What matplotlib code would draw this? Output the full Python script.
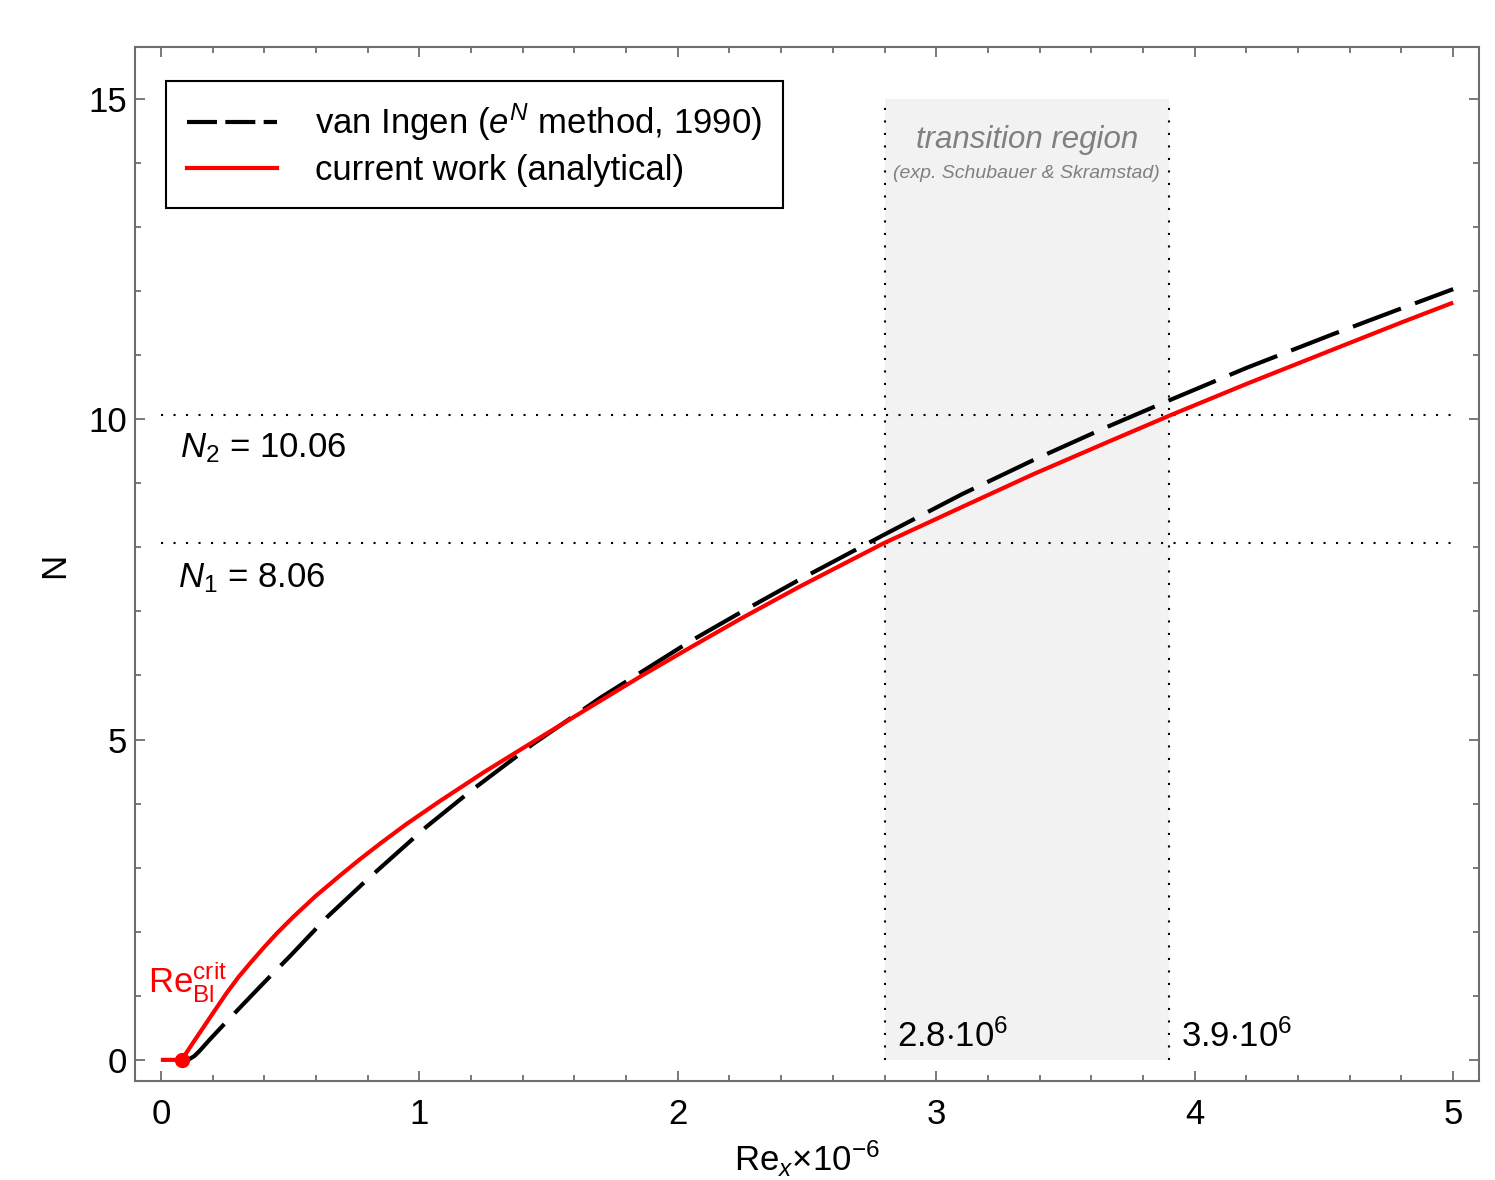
import matplotlib
matplotlib.use("Agg")
import matplotlib.pyplot as plt
from matplotlib.lines import Line2D
from matplotlib.ticker import MultipleLocator

plt.rcParams['font.family'] = ['Liberation Sans', 'DejaVu Sans']
plt.rcParams['mathtext.fontset'] = 'custom'
plt.rcParams['mathtext.rm'] = 'Liberation Sans'
plt.rcParams['mathtext.it'] = 'Liberation Sans:italic'
plt.rcParams['mathtext.bf'] = 'Liberation Sans:bold'

# ---- data ----
red_x = [0.0, 0.081, 0.12, 0.16, 0.2, 0.254, 0.3, 0.35, 0.4, 0.45, 0.512, 0.6,
         0.7, 0.77, 0.85, 0.95, 1.08, 1.25, 1.467, 1.65, 1.854, 2.05, 2.241, 2.473,
         2.795, 3.1, 3.375, 3.65, 3.905, 4.2, 4.537, 4.8, 5.0]
red_N = [0.0, 0.0, 0.24, 0.48, 0.72, 1.04, 1.29, 1.53, 1.76, 1.98, 2.23, 2.56,
         2.90, 3.13, 3.38, 3.68, 4.04, 4.49, 5.03, 5.48, 5.98, 6.44, 6.88, 7.39,
         8.06, 8.63, 9.14, 9.62, 10.06, 10.55, 11.09, 11.51, 11.82]

black_x = [0.105, 0.13, 0.15, 0.19, 0.241, 0.3, 0.4, 0.5, 0.641, 0.8, 1.028, 1.2,
           1.44, 1.7, 2.047, 2.25, 2.473, 2.795, 3.1, 3.375, 3.65, 3.905, 4.2,
           4.537, 4.8, 5.0]
black_N = [0.0, 0.06, 0.14, 0.32, 0.54, 0.79, 1.21, 1.62, 2.22, 2.82, 3.64, 4.2,
           4.93, 5.65, 6.53, 7.0, 7.5, 8.19, 8.83, 9.36, 9.86, 10.3, 10.8,
           11.33, 11.73, 12.03]

re_crit = 0.081
N1, N2 = 8.06, 10.06
trans_lo, trans_hi = 2.8, 3.9

fig = plt.figure(figsize=(14.95, 11.8), dpi=100)
ax = fig.add_axes([0.0903, 0.0839, 0.899, 0.8763])
ax.set_xlim(-0.10, 5.10)
ax.set_ylim(-0.33, 15.81)

fs = 25
# transition region
ax.fill_between([trans_lo, trans_hi], 0, 15, color='#f2f2f2', lw=0, zorder=0)
dot = (0, (1, 5))
for xv in (trans_lo, trans_hi):
    ax.plot([xv, xv], [0, 15], color='black', lw=1.5, ls=dot, zorder=1)
for yv in (N1, N2):
    ax.plot([0, 5], [yv, yv], color='black', lw=1.5, ls=dot, zorder=1)

ax.plot(black_x, black_N, color='black', lw=3.0, dashes=(12.3, 3.6),
        dash_capstyle='butt', dash_joinstyle='round', zorder=3)
ax.plot(red_x, red_N, color='#ff0000', lw=3.0, zorder=4, solid_capstyle='butt',
        solid_joinstyle='round')
ax.plot([re_crit], [0], 'o', color='#ff0000', ms=10, zorder=5)

# texts
ax.text(0.074, 9.40, r'$N_2$ = 10.06', fontsize=fs, ha='left', va='baseline')
ax.text(0.066, 7.38, r'$N_1$ = 8.06', fontsize=fs, ha='left', va='baseline')
ax.text(2.848, 0.21, r'2.8$\cdot$10$^6$', fontsize=fs, ha='left', va='baseline')
ax.text(3.947, 0.21, r'3.9$\cdot$10$^6$', fontsize=fs, ha='left', va='baseline')
ax.text(3.35, 14.23, 'transition region', fontsize=22.5, style='italic',
        color='#808080', ha='center', va='baseline')
ax.text(3.35, 13.77, '(exp. Schubauer & Skramstad)', fontsize=14, style='italic',
        color='#808080', ha='center', va='baseline')
ax.text(-0.05, 1.05, r'Re$_{\mathrm{Bl}}^{\mathrm{crit}}$', fontsize=fs,
        color='#ff0000', ha='left', va='baseline')

# ticks & spines
ax.xaxis.set_major_locator(MultipleLocator(1))
ax.xaxis.set_minor_locator(MultipleLocator(0.2))
ax.yaxis.set_major_locator(MultipleLocator(5))
ax.yaxis.set_minor_locator(MultipleLocator(1))
ax.tick_params(which='both', direction='in', top=True, right=True,
               color='#6e6e6e', width=1.3)
ax.tick_params(which='major', length=7, labelsize=fs)
ax.tick_params(which='minor', length=4)
ax.tick_params(axis='x', which='major', pad=12)
ax.tick_params(axis='y', which='major', pad=6)
for s in ax.spines.values():
    s.set_color('#6e6e6e')
    s.set_linewidth(1.5)

fig.text(0.540, 1 - 1171 / 1180, r'Re$_x$×10$^{-6}$', fontsize=fs, ha='center',
         va='baseline')
fig.text(55 / 1495, 1 - 565 / 1180, 'N', fontsize=fs, rotation=90,
         ha='center', va='center')

# legend
h1 = Line2D([], [], color='black', lw=3.0, dashes=(7.2, 2.0), dash_capstyle='butt')
h2 = Line2D([], [], color='#ff0000', lw=3.0)
leg = ax.legend([h1, h2], [r'van Ingen ($e^N$ method, 1990)', 'current work (analytical)'],
                loc='upper left', bbox_to_anchor=(0.023, 0.967), borderaxespad=0,
                fontsize=fs, frameon=True, fancybox=False, handlelength=2.6,
                handletextpad=1.1, labelspacing=0.3, borderpad=0.6)
leg.get_frame().set_edgecolor('black')
leg.get_frame().set_linewidth(1.5)
leg.get_frame().set_alpha(1)

fig.savefig('out.png', dpi=100)
